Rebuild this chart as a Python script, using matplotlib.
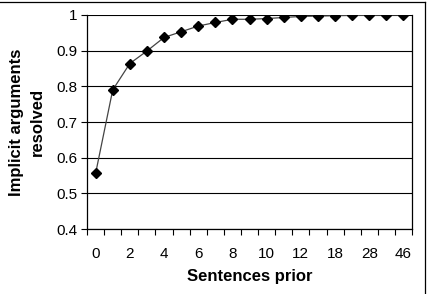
import matplotlib
matplotlib.use("Agg")
import matplotlib.pyplot as plt
import numpy as np

plt.rcParams['font.family'] = ['Liberation Sans', 'DejaVu Sans']

# categories (only every other label is shown in the chart)
sentences = ['0', '1', '2', '3', '4', '5', '6', '7', '8', '9', '10', '11',
             '12', '13', '18', '22', '28', '35', '46']
resolved = [0.556, 0.790, 0.864, 0.899, 0.937, 0.953, 0.969, 0.979, 0.988,
            0.988, 0.990, 0.993, 0.996, 0.997, 0.998, 0.999, 0.999, 1.0, 1.0]

fig = plt.figure(figsize=(4.31, 2.94), dpi=100)
ax = fig.add_axes([0.202, 0.221, 0.754, 0.728])

x = np.arange(len(sentences))
ax.plot(x, resolved, color='#444444', lw=0.9, marker='D', ms=5.5,
        mfc='black', mec='black', zorder=3)

ax.set_xlim(-0.5, len(sentences) - 0.5)
ax.set_ylim(0.4, 1.0)
ax.set_yticks(np.arange(0.4, 1.01, 0.1))
ax.set_yticklabels(['0.4', '0.5', '0.6', '0.7', '0.8', '0.9', '1'])
ax.yaxis.grid(True, color='black', lw=0.8)
ax.set_axisbelow(True)

# category boundaries get tick marks, labels sit in between
ax.set_xticks(np.arange(-0.5, len(sentences), 1.0))
ax.set_xticklabels([])
ax.set_xticks(x[::2], minor=True)
ax.set_xticklabels(sentences[::2], minor=True)
ax.tick_params(axis='x', which='minor', length=0, labelsize=11, pad=13)
ax.tick_params(axis='x', which='major', length=4, width=0.8, direction='out')
ax.tick_params(axis='y', length=4, width=0.8, labelsize=11, pad=3)

for s in ax.spines.values():
    s.set_linewidth(0.9)
ax.spines['top'].set_visible(False)

ax.set_xlabel('Sentences prior', fontsize=12, fontweight='bold', labelpad=6)
ax.set_ylabel('Implicit arguments\nresolved', fontsize=12,
              fontweight='bold', labelpad=8, linespacing=1.5)

# outer chart border (top and right edges visible)
fig.add_artist(plt.Line2D([0, 0.986], [0.993, 0.993], color='black', lw=0.9,
                          transform=fig.transFigure))
fig.add_artist(plt.Line2D([0.986, 0.986], [0, 0.993], color='black', lw=0.9,
                          transform=fig.transFigure))

fig.savefig('out.png', dpi=100)
